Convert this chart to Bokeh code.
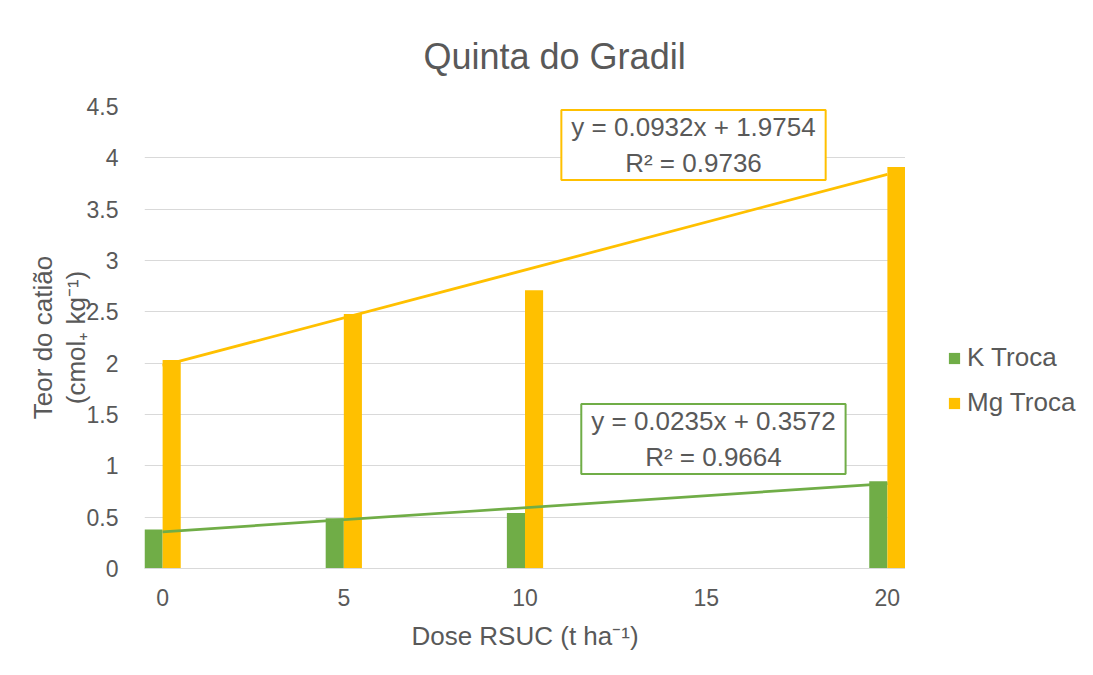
from bokeh.plotting import figure
from bokeh.layouts import row
from bokeh.models import (Range1d, Label, Legend, LegendItem, FixedTicker,
                          ColumnDataSource, LinearAxis)
from bokeh.transform import dodge
from bokeh.embed import file_html
from bokeh.resources import INLINE

# ---- data ----
dose = [0, 5, 10, 20]
k_troca = [0.38, 0.49, 0.54, 0.85]
mg_troca = [2.03, 2.48, 2.71, 3.91]
series_names = ["K Troca", "Mg Troca"]
k_fit = (0.0235, 0.3572)      # slope, intercept
mg_fit = (0.0932, 1.9754)
k_eq = "y = 0.0235x + 0.3572\nR² = 0.9664"
mg_eq = "y = 0.0932x + 1.9754\nR² = 0.9736"
x_ticks = [0, 5, 10, 15, 20]
y_ticks = [0, 0.5, 1, 1.5, 2, 2.5, 3, 3.5, 4, 4.5]
y_tick_labels = {0: "0", 0.5: "0.5", 1: "1", 1.5: "1.5", 2: "2", 2.5: "2.5",
                 3: "3", 3.5: "3.5", 4: "4", 4.5: "4.5"}

GREEN = "#70AD47"
GOLD = "#FFC000"
TXT = "#595959"
GRID = "#D9D9D9"
FONT = "Liberation Sans"

src = ColumnDataSource(dict(dose=dose, k=k_troca, mg=mg_troca))

p = figure(width=905, height=667, output_backend="svg", toolbar_location=None,
           x_range=Range1d(-0.5, 20.5), y_range=Range1d(0, 4.5),
           min_border_left=144, min_border_right=0, min_border_top=106,
           min_border_bottom=99)
p.outline_line_color = None
p.background_fill_color = "white"
p.border_fill_color = "white"

p.title.text = "Quinta do Gradil"
p.title.align = "left"
p.title.offset = 279
p.title.standoff = 59
p.title.text_font = FONT
p.title.text_font_size = "36px"
p.title.text_font_style = "normal"
p.title.text_color = TXT

bw = 0.5
rk = p.vbar(x=dodge("dose", -bw / 2, range=p.x_range), top="k", width=bw, source=src,
            fill_color=GREEN, line_color=None)
rm = p.vbar(x=dodge("dose", bw / 2, range=p.x_range), top="mg", width=bw, source=src,
            fill_color=GOLD, line_color=None)

tx = [min(dose), max(dose)]
p.line(tx, [k_fit[0] * v + k_fit[1] for v in tx], line_color=GREEN, line_width=2.75)
p.line(tx, [mg_fit[0] * v + mg_fit[1] for v in tx], line_color=GOLD, line_width=2.75)

# axes
p.xaxis.ticker = FixedTicker(ticks=x_ticks)
p.yaxis.ticker = FixedTicker(ticks=y_ticks)
p.yaxis.major_label_overrides = y_tick_labels
for ax in (p.xaxis[0], p.yaxis[0]):
    ax.major_tick_line_color = None
    ax.minor_tick_line_color = None
    ax.major_label_text_font = FONT
    ax.major_label_text_font_size = "23px"
    ax.major_label_text_color = TXT
    ax.axis_label_text_font = FONT
    ax.axis_label_text_font_size = "26px"
    ax.axis_label_text_font_style = "normal"
    ax.axis_label_text_color = TXT
p.yaxis.axis_line_color = None
p.xaxis.axis_line_color = GRID
p.xaxis.major_label_standoff = 14
p.yaxis.major_label_standoff = 20
p.xaxis.axis_label = "Dose RSUC (t ha⁻¹)"
p.xaxis.axis_label_standoff = 12


def label_axis(text, standoff):
    return LinearAxis(ticker=FixedTicker(ticks=[]), axis_line_color=None,
                      major_tick_line_color=None, minor_tick_line_color=None,
                      bounds=(0.6, 4.5),
                      axis_label=text, axis_label_text_font=FONT,
                      axis_label_text_font_size="26px", axis_label_text_font_style="normal",
                      axis_label_text_color=TXT, axis_label_standoff=standoff)


# two-line y-axis title
p.add_layout(label_axis("(cmol₊ kg⁻¹)", -7), "left")
p.add_layout(label_axis("Teor do catião", 0), "left")

p.xgrid.grid_line_color = None
p.ygrid.grid_line_color = GRID
p.ygrid.grid_line_width = 1

# equation boxes
p.add_layout(Label(x=14.65, y=4.124, text=mg_eq, text_align="center", text_baseline="middle",
                   text_font=FONT, text_font_size="26px", text_color=TXT,
                   background_fill_color="white", border_line_color=GOLD,
                   border_line_width=2, padding=(10, 2)))
p.add_layout(Label(x=15.2, y=1.261, text=k_eq, text_align="center", text_baseline="middle",
                   text_font=FONT, text_font_size="26px", text_color=TXT,
                   background_fill_color="white", border_line_color=GREEN,
                   border_line_width=2, padding=(10, 2)))

# legend panel on the right
p2 = figure(width=180, height=667, output_backend="svg", toolbar_location=None,
            x_range=Range1d(0, 1), y_range=Range1d(0, 1),
            min_border_left=0, min_border_right=0, min_border_top=0, min_border_bottom=0)
p2.axis.visible = False
p2.grid.visible = False
p2.outline_line_color = None
p2.border_fill_color = "white"
nan = float("nan")
lk = p2.vbar(x=[nan], top=[nan], width=1, fill_color=GREEN, line_color=None)
lm = p2.vbar(x=[nan], top=[nan], width=1, fill_color=GOLD, line_color=None)
legend = Legend(items=[LegendItem(label=series_names[0], renderers=[lk]),
                       LegendItem(label=series_names[1], renderers=[lm])],
                location=(42, 150), orientation="vertical",
                glyph_width=14, glyph_height=14, label_standoff=6,
                label_text_font=FONT, label_text_font_size="26px",
                label_text_color=TXT, label_height=26, spacing=14,
                padding=0, margin=0, border_line_color=None,
                background_fill_alpha=0)
p2.add_layout(legend, "center")

layout = row(p, p2, spacing=0)
open("out.html", "w").write(file_html(layout, INLINE))
